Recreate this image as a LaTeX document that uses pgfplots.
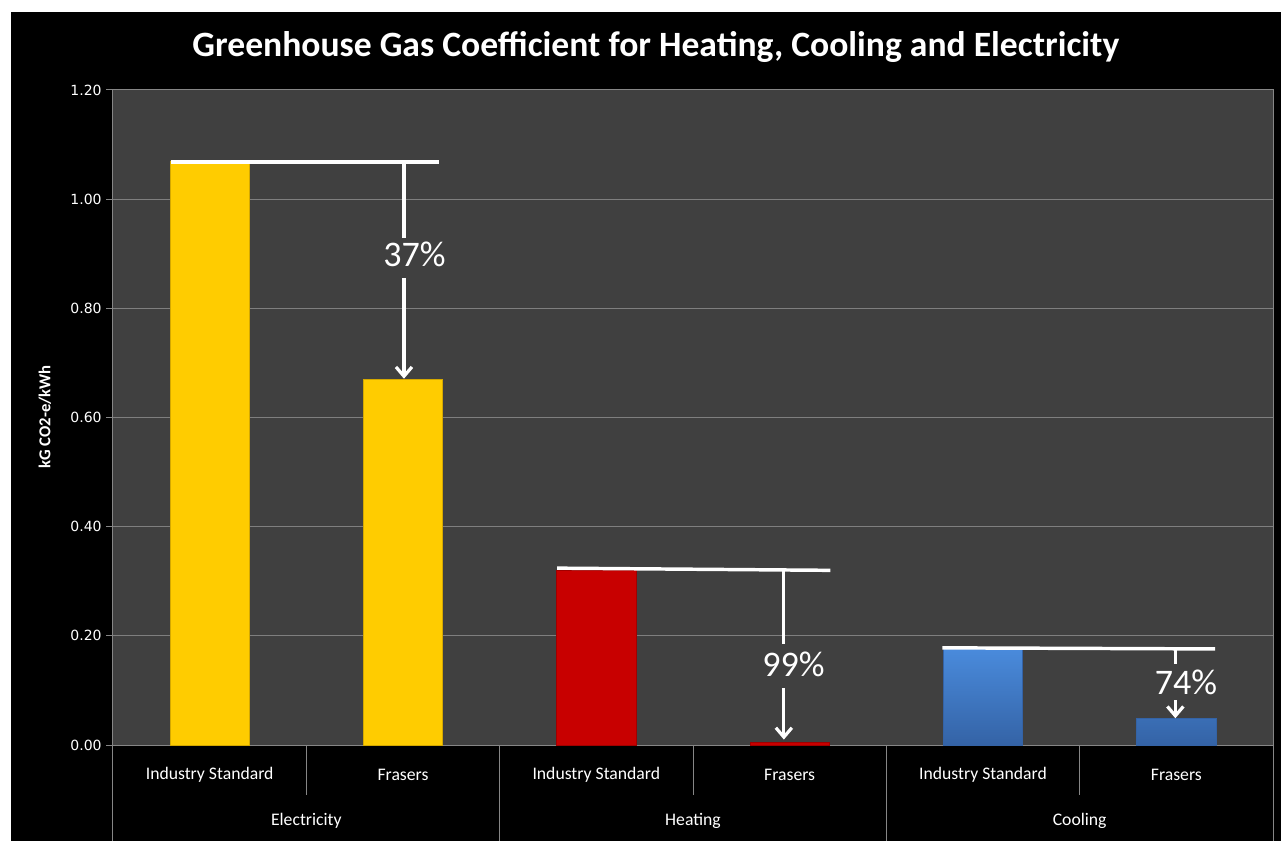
\documentclass[border=0pt]{standalone}
\usepackage{fontspec}
\setmainfont{Carlito}
\newfontfamily\tickfont{DejaVu Sans}
\usepackage{pgfplots}
\pgfplotsset{compat=1.18}
\usetikzlibrary{arrows.meta}
\definecolor{plotbg}{HTML}{404040}
\definecolor{gridc}{HTML}{7F7F7F}
\definecolor{axc}{HTML}{868686}
\definecolor{yel}{HTML}{FFCC00}
\definecolor{yeledge}{HTML}{D4A800}
\definecolor{redb}{HTML}{C80000}
\definecolor{bluetop}{HTML}{4A8BDC}
\definecolor{bluebot}{HTML}{3463A6}
\tikzset{
  annline/.style={white, line width=2.6pt},
  annvert/.style={white, line width=2.4pt},
  annarrow/.style={white, line width=2.4pt, -{Straight Barb[length=7pt,width=12pt]}},
  annlabel/.style={white, font=\fontsize{27}{32}\selectfont},
}
\begin{document}
\begin{tikzpicture}
\fill[white] (0,0) rectangle (961.5pt,630.75pt);
\fill[black] (8.25pt,0) rectangle (960.75pt,621.75pt);
\begin{axis}[
  at={(84.75pt,72pt)}, anchor=south west,
  scale only axis, width=870pt, height=491.25pt,
  xmin=-0.5, xmax=5.5, ymin=0, ymax=1.2,
  axis background/.style={fill=plotbg},
  axis line style={draw=axc, line width=0.75pt},
  ymajorgrids, grid style={draw=gridc, line width=0.75pt},
  ytick={0,0.2,0.4,0.6,0.8,1.0,1.2},
  ytick pos=left,
  /pgf/number format/fixed, /pgf/number format/fixed zerofill,
  /pgf/number format/precision=2, /pgf/number format/assume math mode=true,
  yticklabel style={text=white, font=\tickfont\fontsize{10.5}{12}\selectfont},
  tick align=outside, major tick length=5pt,
  ytick style={draw=axc, line width=0.75pt},
  xtick={0,1,2,3,4,5},
  xticklabels={Industry Standard, Frasers, Industry Standard, Frasers, Industry Standard, Frasers},
  xtick style={draw=none},
  xticklabel style={text=white, anchor=center, yshift=-17.25pt, font=\fontsize{13.25}{15}\selectfont},
  ylabel={kG CO2-e/kWh},
  ylabel style={at={(axis description cs:-0.0586,0.501)}, anchor=center, text=white, font=\bfseries\fontsize{12.5}{14}\selectfont},
  title={Greenhouse Gas Coefficient for Heating, Cooling and Electricity},
  title style={at={(axis description cs:0.468,1.054)}, anchor=center, text=white, font=\bfseries\fontsize{26.7}{31}\selectfont},
  clip=false,
]
\addplot[ybar, bar width=0.41, bar shift=0pt, fill=yel, draw=yeledge, line width=0.5pt] coordinates {(0,1.07) (1,0.67)};
\addplot[ybar, bar width=0.41, bar shift=0pt, fill=redb, draw=redb!80!black, line width=0.5pt] coordinates {(2,0.32) (3,0.005)};
\addplot[ybar, bar width=0.41, bar shift=0pt, top color=bluetop, bottom color=bluebot, draw=bluebot, line width=0.5pt] coordinates {(4,0.177) (5,0.048)};

% annotations
\draw[annline] (axis cs:-0.2,1.068) -- (axis cs:1.186,1.068);
\draw[annvert] (axis cs:1.005,1.068) -- (axis cs:1.005,0.929);
\draw[annarrow] (axis cs:1.005,0.856) -- (axis cs:1.005,0.671);
\node[annlabel] at (axis cs:1.06,0.898) {37\%};

\draw[annline] (axis cs:1.797,0.324) -- (axis cs:3.21,0.320);
\draw[annvert] (axis cs:2.97,0.320) -- (axis cs:2.97,0.185);
\draw[annarrow] (axis cs:2.97,0.104) -- (axis cs:2.97,0.010);
\node[annlabel] at (axis cs:3.02,0.147) {99\%};

\draw[annline] (axis cs:3.79,0.178) -- (axis cs:5.2,0.176);
\draw[annvert] (axis cs:4.995,0.176) -- (axis cs:4.995,0.148);
\draw[annarrow] (axis cs:4.995,0.082) -- (axis cs:4.995,0.049);
\node[annlabel] at (axis cs:5.05,0.115) {74\%};

% category axis
\pgfplotsinvokeforeach{0.5,2.5,4.5}{\draw[axc, line width=0.75pt] (axis cs:#1,0) -- ++(0pt,-37.5pt);}
\pgfplotsinvokeforeach{-0.5,1.5,3.5,5.5}{\draw[axc, line width=0.75pt] (axis cs:#1,0) -- ++(0pt,-72pt);}
\node[white, font=\fontsize{13.25}{15}\selectfont, yshift=-57pt] at (axis cs:0.5,0) {Electricity};
\node[white, font=\fontsize{13.25}{15}\selectfont, yshift=-57pt] at (axis cs:2.5,0) {Heating};
\node[white, font=\fontsize{13.25}{15}\selectfont, yshift=-57pt] at (axis cs:4.5,0) {Cooling};
\end{axis}
\end{tikzpicture}
\end{document}
